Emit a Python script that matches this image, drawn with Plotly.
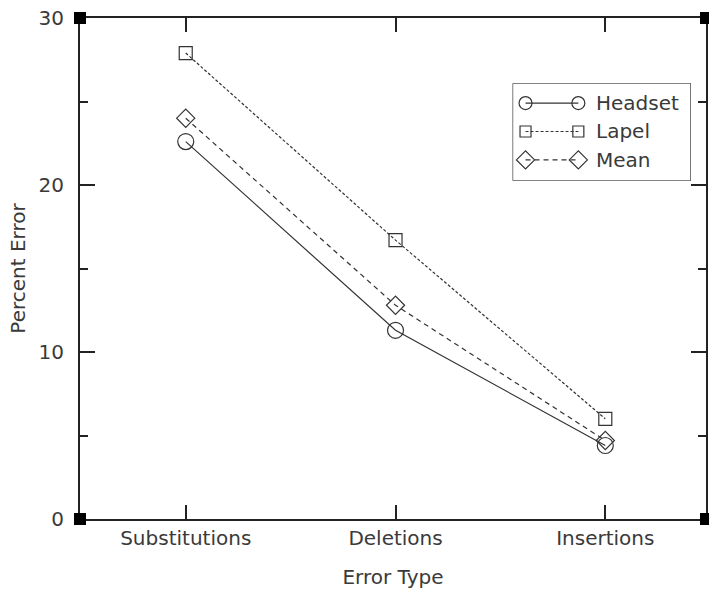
import plotly.graph_objects as go

categories = ["Substitutions", "Deletions", "Insertions"]
series_names = ["Headset", "Lapel", "Mean"]
headset = [22.6, 11.3, 4.4]
lapel = [27.9, 16.7, 6.0]
mean = [24.0, 12.8, 4.7]
y_ticks = [0, 10, 20, 30]

FONT = "DejaVu Sans"
TXT = "#3a3a3a"
LINE = "#333333"

styles = [
    dict(dash="solid", symbol="circle-open", size=16, lsize=13),
    dict(dash="3px,2px", symbol="square-open", size=13, lsize=11),
    dict(dash="5px,4px", symbol="diamond-open", size=14, lsize=14),
]

fig = go.Figure()
for name, vals, st in zip(series_names, [headset, lapel, mean], styles):
    fig.add_trace(go.Scatter(
        x=list(range(len(categories))), y=vals, name=name, mode="lines+markers",
        line=dict(color=LINE, width=1.2, dash=st["dash"]),
        marker=dict(symbol=st["symbol"], size=st["size"], color=LINE,
                    line=dict(width=1.2, color=LINE)),
        cliponaxis=False, showlegend=False))

# custom legend (samples with markers at both ends), on an overlay axis in pixel-like units
LEG_W, LEG_H = 179, 98
for i, (name, st) in enumerate(zip(series_names, styles)):
    yy = 20 + 28.5 * i
    fig.add_trace(go.Scatter(
        x=[13, 66], y=[yy, yy], xaxis="x2", yaxis="y2", mode="lines+markers",
        line=dict(color=LINE, width=1.2, dash=st["dash"]),
        marker=dict(symbol=st["symbol"], size=st["lsize"], color=LINE,
                    line=dict(width=1.2, color=LINE)),
        cliponaxis=False, showlegend=False, hoverinfo="skip"))

annotations = [
    dict(xref="x2", yref="y2", x=82, y=20 + 28.5 * i, text=name, showarrow=False,
         xanchor="left", yanchor="middle", font=dict(family=FONT, size=20, color=TXT))
    for i, name in enumerate(series_names)
]

corner = dict(type="rect", xref="paper", yref="paper", xsizemode="pixel", ysizemode="pixel",
              fillcolor="black", line=dict(width=0), layer="above")
shapes = [dict(type="rect", xref="x2", yref="y2", x0=0, x1=LEG_W, y0=0, y1=LEG_H,
               line=dict(color="#222", width=1.2), fillcolor="white", layer="below")]
for xa in (0, 1):
    for ya in (0, 1):
        shapes.append(dict(corner, xanchor=xa, yanchor=ya, x0=-6, x1=6, y0=-6, y1=6))

fig.update_layout(
    width=709, height=592,
    margin=dict(l=80, r=1, t=18, b=73),
    paper_bgcolor="white", plot_bgcolor="white",
    font=dict(family=FONT, size=20, color=TXT),
    showlegend=False,
    xaxis=dict(range=[-0.504, 2.48], tickmode="array", tickvals=[0, 1, 2], ticktext=categories,
               ticks="inside", ticklen=14, tickwidth=1.5, tickcolor="#222",
               showline=True, linecolor="#222", linewidth=2, mirror="ticks",
               showgrid=False, zeroline=False,
               title=dict(text="Error Type", standoff=21, font=dict(family=FONT, size=20, color=TXT))),
    yaxis=dict(range=[0, 30], tickmode="array", tickvals=y_ticks,
               ticks="inside", ticklen=15, tickwidth=1.5, tickcolor="#222",
               minor=dict(dtick=5, tick0=0, ticks="inside", ticklen=8, tickwidth=1.5, tickcolor="#222"),
               showline=True, linecolor="#222", linewidth=2, mirror="ticks",
               showgrid=False, zeroline=False, ticklabelstandoff=10,
               title=dict(text="Percent Error", standoff=8, font=dict(family=FONT, size=20, color=TXT))),
    xaxis2=dict(domain=[0.691, 0.976], range=[0, LEG_W], anchor="y2", visible=False, fixedrange=True),
    yaxis2=dict(domain=[0.675, 0.870], range=[LEG_H, 0], anchor="x2", visible=False, fixedrange=True),
    shapes=shapes,
    annotations=annotations,
)

fig.write_html("out.html")
